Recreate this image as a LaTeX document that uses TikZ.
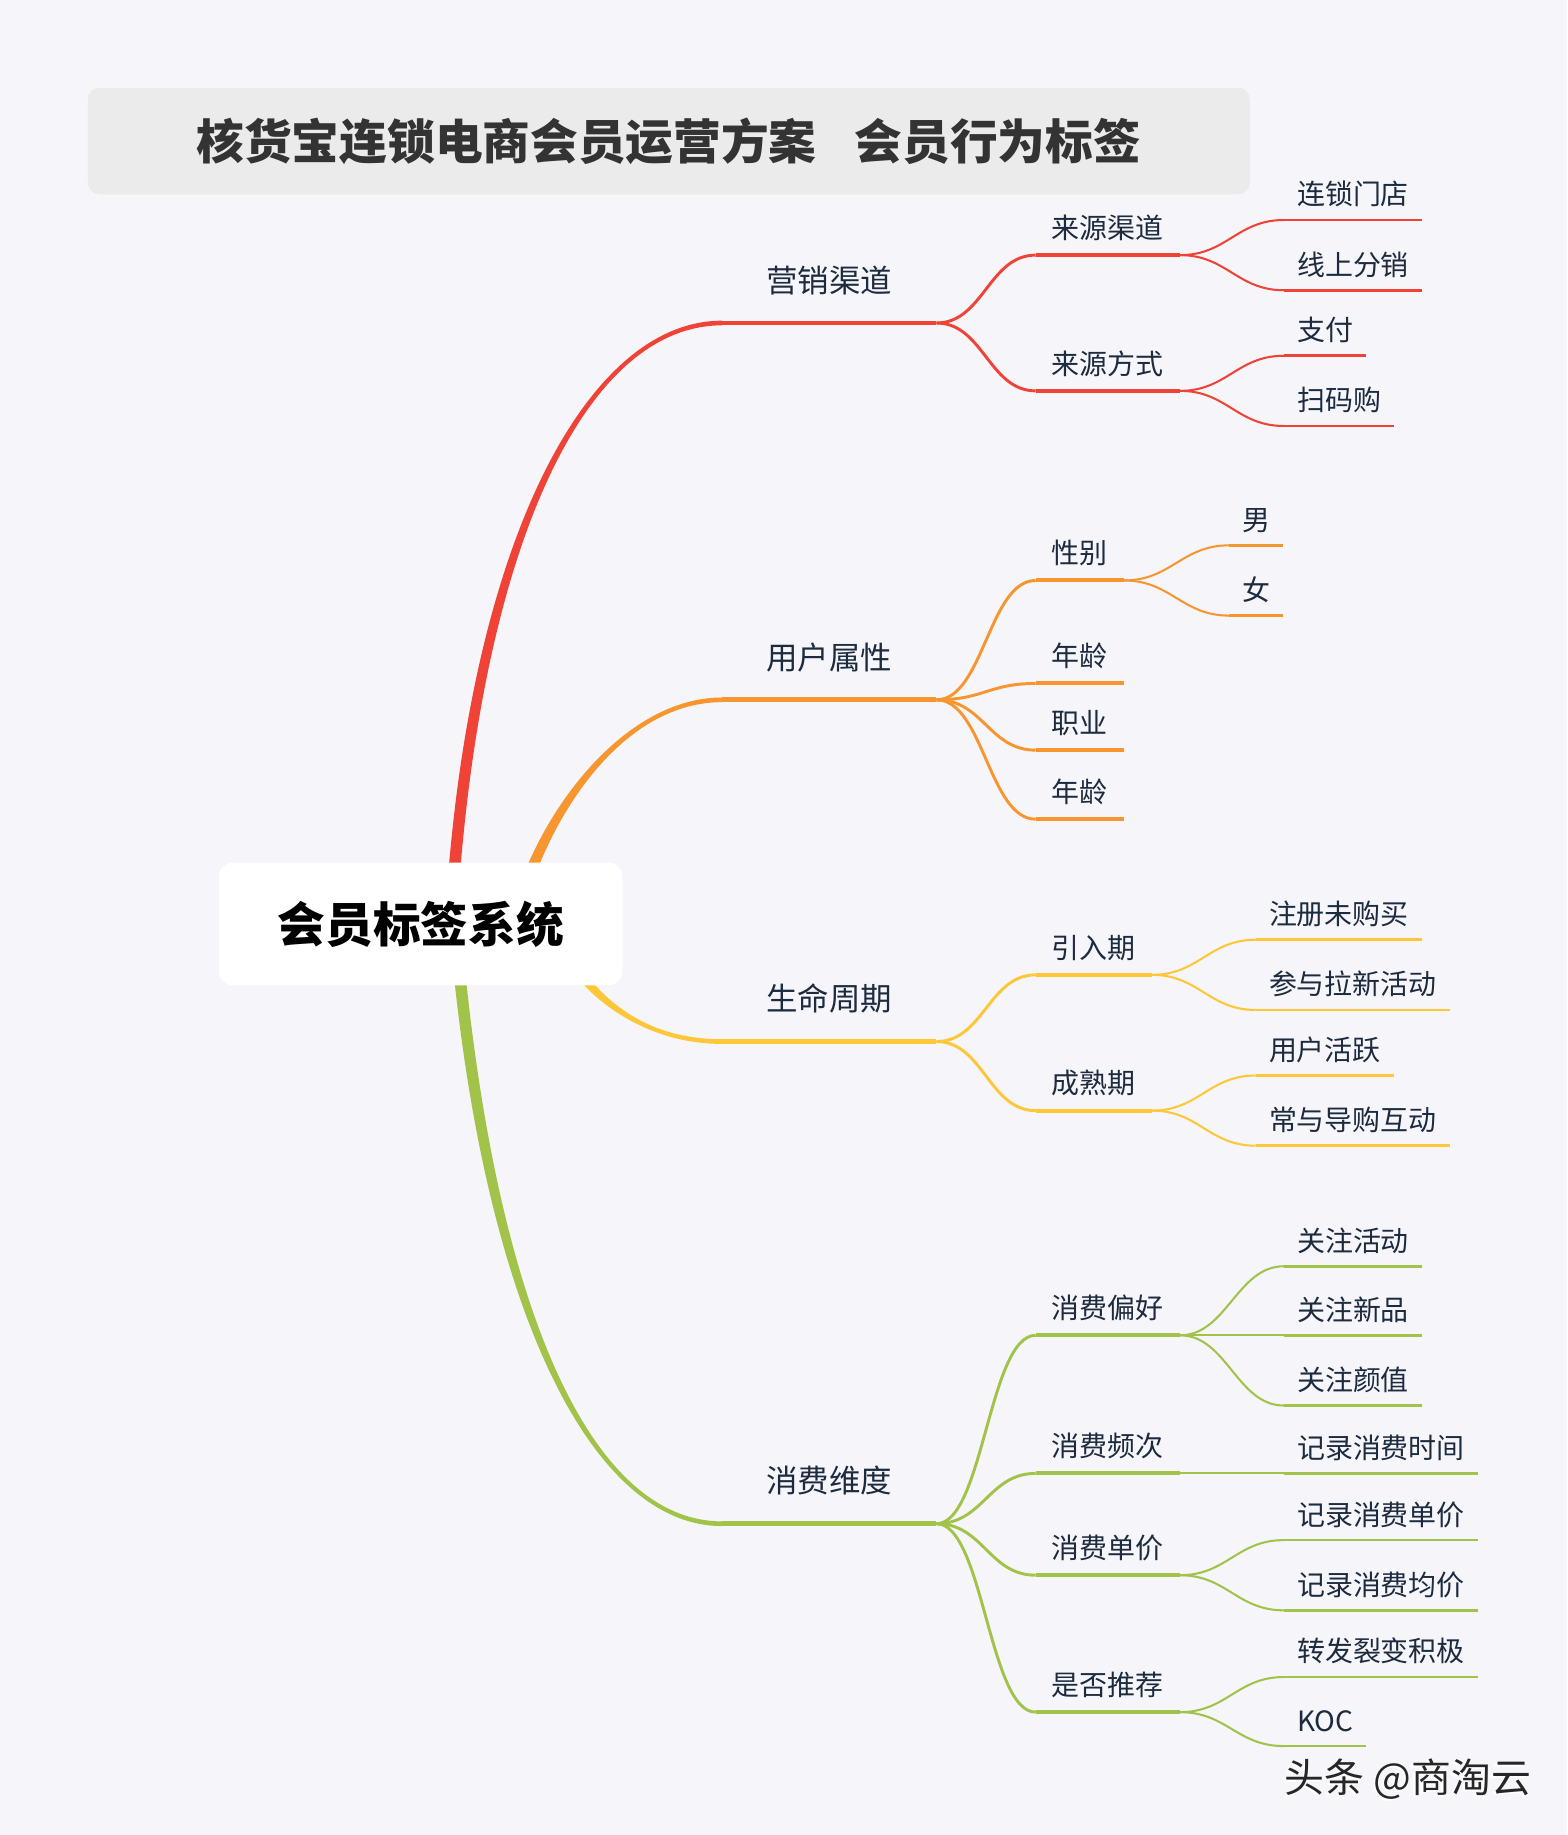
\documentclass[tikz,border=0pt]{standalone}
\usepackage{fontspec}
\setmainfont{Noto Sans CJK SC}
\usetikzlibrary{calc}
\definecolor{bgc}{HTML}{F5F5FA}
\definecolor{titlebg}{HTML}{EBEBEB}
\definecolor{txt}{HTML}{1D2B3F}
\definecolor{cred}{HTML}{EF4338}
\definecolor{corange}{HTML}{F7952F}
\definecolor{cyellow}{HTML}{FDC738}
\definecolor{cgreen}{HTML}{A1C349}
\tikzset{
	titlebox/.style={fill=titlebg,rounded corners=0.2cm,minimum width=19.86cm,minimum height=1.82cm,text=black!80,font=\fontsize{23.2}{28}\selectfont\bfseries},
	rootbox/.style={fill=white,rounded corners=0.24cm,minimum width=6.9cm,minimum height=2.1cm,text=black,font=\fontsize{23.2}{28}\selectfont\bfseries},
	one/.style={anchor=south west,text=txt,text depth=0pt,inner xsep=0.75cm,inner ysep=0.52cm,font=\fontsize{15.3}{18}\selectfont},
	two/.style={anchor=south west,text=txt,text depth=0pt,inner xsep=0.27cm,inner ysep=0.28cm,font=\fontsize{13.6}{16}\selectfont},
	three/.style={anchor=south west,text=txt,text depth=0pt,inner xsep=0.22cm,inner ysep=0.25cm,font=\fontsize{13.6}{16}\selectfont},
	wone/.style={line width=0.08cm},
	wtwo/.style={line width=0.068cm},
	wthree/.style={line width=0.045cm},
	ctwo/.style={line width=0.05cm},
	cthree/.style={line width=0.035cm},
	sign/.style={font=\fontsize{19.4}{24}\selectfont}
}
% tapered main branch: colour, root, control 1, control 2, target node, end offset
\newcommand{\branch}[6]{%
	\fill[#1] ($(#2)+(-5,0)$) .. controls +#3 and +#4 .. ($(#5.south west)+(0,#6)$)
		-- ($(#5.south west)+(0,-#6)$) .. controls +#4 and +#3 .. ($(#2)+(5,0)$) -- cycle;}
\begin{document}
\begin{tikzpicture}[x=0.02cm,y=-0.02cm]
	\fill[bgc] (0,0) rectangle (1339,1568);
	\node[titlebox] (title) at (571.5,120.5) {核货宝连锁电商会员运营方案\hspace{0.8em}会员行为标签};
	% first level
	\node[one] (yx) at (617,276) {营销渠道};
	\node[one] (yh) at (617,598) {用户属性};
	\node[one] (sm) at (617,890) {生命周期};
	\node[one] (xf) at (617,1302) {消费维度};
	% second level
	\node[two] (lyqd) at (885,218) {来源渠道};
	\node[two] (lyfs) at (885,334) {来源方式};
	\node[two] (xb) at (885,496) {性别};
	\node[two] (nla) at (885,584) {年龄};
	\node[two] (zy) at (885,641) {职业};
	\node[two] (nlb) at (885,700) {年龄};
	\node[two] (yr) at (885,833) {引入期};
	\node[two] (cs) at (885,949) {成熟期};
	\node[two] (xfph) at (885,1141) {消费偏好};
	\node[two] (xfpc) at (885,1259) {消费频次};
	\node[two] (xfdj) at (885,1346) {消费单价};
	\node[two] (sftj) at (885,1463) {是否推荐};
	% third level
	\node[three] (lsmd) at (1097,188) {连锁门店};
	\node[three] (xsfx) at (1097,248) {线上分销};
	\node[three] (zf) at (1097,304) {支付};
	\node[three] (smg) at (1097,364) {扫码购};
	\node[three] (nan) at (1050,466) {男};
	\node[three] (nv) at (1050,526) {女};
	\node[three] (zcwg) at (1073,803) {注册未购买};
	\node[three] (cylx) at (1073,863) {参与拉新活动};
	\node[three] (hy) at (1073,919) {用户活跃};
	\node[three] (dg) at (1073,979) {常与导购互动};
	\node[three] (gzhd) at (1097,1082) {关注活动};
	\node[three] (gzxp) at (1097,1141) {关注新品};
	\node[three] (gzyz) at (1097,1201) {关注颜值};
	\node[three] (jlsj) at (1097,1259) {记录消费时间};
	\node[three] (jldj) at (1097,1316) {记录消费单价};
	\node[three] (jljj) at (1097,1376) {记录消费均价};
	\node[three] (zflb) at (1097,1433) {转发裂变积极};
	\node[three] (koc) at (1097,1492) {KOC};
	% underlines
	\foreach \n/\c in {yx/cred,yh/corange,sm/cyellow,xf/cgreen}
		\draw[\c,wone] (\n.south west)--(\n.south east);
	\foreach \n/\c in {lyqd/cred,lyfs/cred,xb/corange,nla/corange,zy/corange,nlb/corange,yr/cyellow,cs/cyellow,xfph/cgreen,xfpc/cgreen,xfdj/cgreen,sftj/cgreen}
		\draw[\c,wtwo] (\n.south west)--(\n.south east);
	\foreach \n/\c in {lsmd/cred,xsfx/cred,zf/cred,smg/cred,nan/corange,nv/corange,zcwg/cyellow,cylx/cyellow,hy/cyellow,dg/cyellow,gzhd/cgreen,gzxp/cgreen,gzyz/cgreen,jlsj/cgreen,jldj/cgreen,jljj/cgreen,zflb/cgreen,koc/cgreen}
		\draw[\c,wthree] (\n.south west)--(\n.south east);
	% branches
	\coordinate (rr) at (387,760);
	\coordinate (ro) at (448,760);
	\coordinate (ry) at (490,825);
	\coordinate (rg) at (392,825);
	\branch{cred}{rr}{(22,-300)}{(-115,0)}{yx}{-2}
	\branch{corange}{ro}{(25,-75)}{(-80,0)}{yh}{-2}
	\branch{cyellow}{ry}{(25,35)}{(-60,0)}{sm}{2}
	\branch{cgreen}{rg}{(30,300)}{(-110,0)}{xf}{2}
	\foreach \a/\b/\c in {yx/lyqd/cred,yx/lyfs/cred,yh/xb/corange,yh/nla/corange,yh/zy/corange,yh/nlb/corange,sm/yr/cyellow,sm/cs/cyellow,xf/xfph/cgreen,xf/xfpc/cgreen,xf/xfdj/cgreen,xf/sftj/cgreen}
		\draw[\c,ctwo] (\a.south east) .. controls +(40,0) and +(-40,0) .. (\b.south west);
	\foreach \a/\b/\c in {lyqd/lsmd/cred,lyqd/xsfx/cred,lyfs/zf/cred,lyfs/smg/cred,xb/nan/corange,xb/nv/corange,yr/zcwg/cyellow,yr/cylx/cyellow,cs/hy/cyellow,cs/dg/cyellow,xfph/gzhd/cgreen,xfph/gzxp/cgreen,xfph/gzyz/cgreen,xfpc/jlsj/cgreen,xfdj/jldj/cgreen,xfdj/jljj/cgreen,sftj/zflb/cgreen,sftj/koc/cgreen}
		\draw[\c,cthree] (\a.south east) .. controls +(40,0) and +(-40,0) .. (\b.south west);
	\node[rootbox] (root) at (359.5,789.5) {会员标签系统};
	\node[sign,text=white] (signbg) at (1201,1522) {头条 @商淘云};
	\node[sign,text=black!85] (signtx) at (1203,1520) {头条 @商淘云};
\end{tikzpicture}
\end{document}
